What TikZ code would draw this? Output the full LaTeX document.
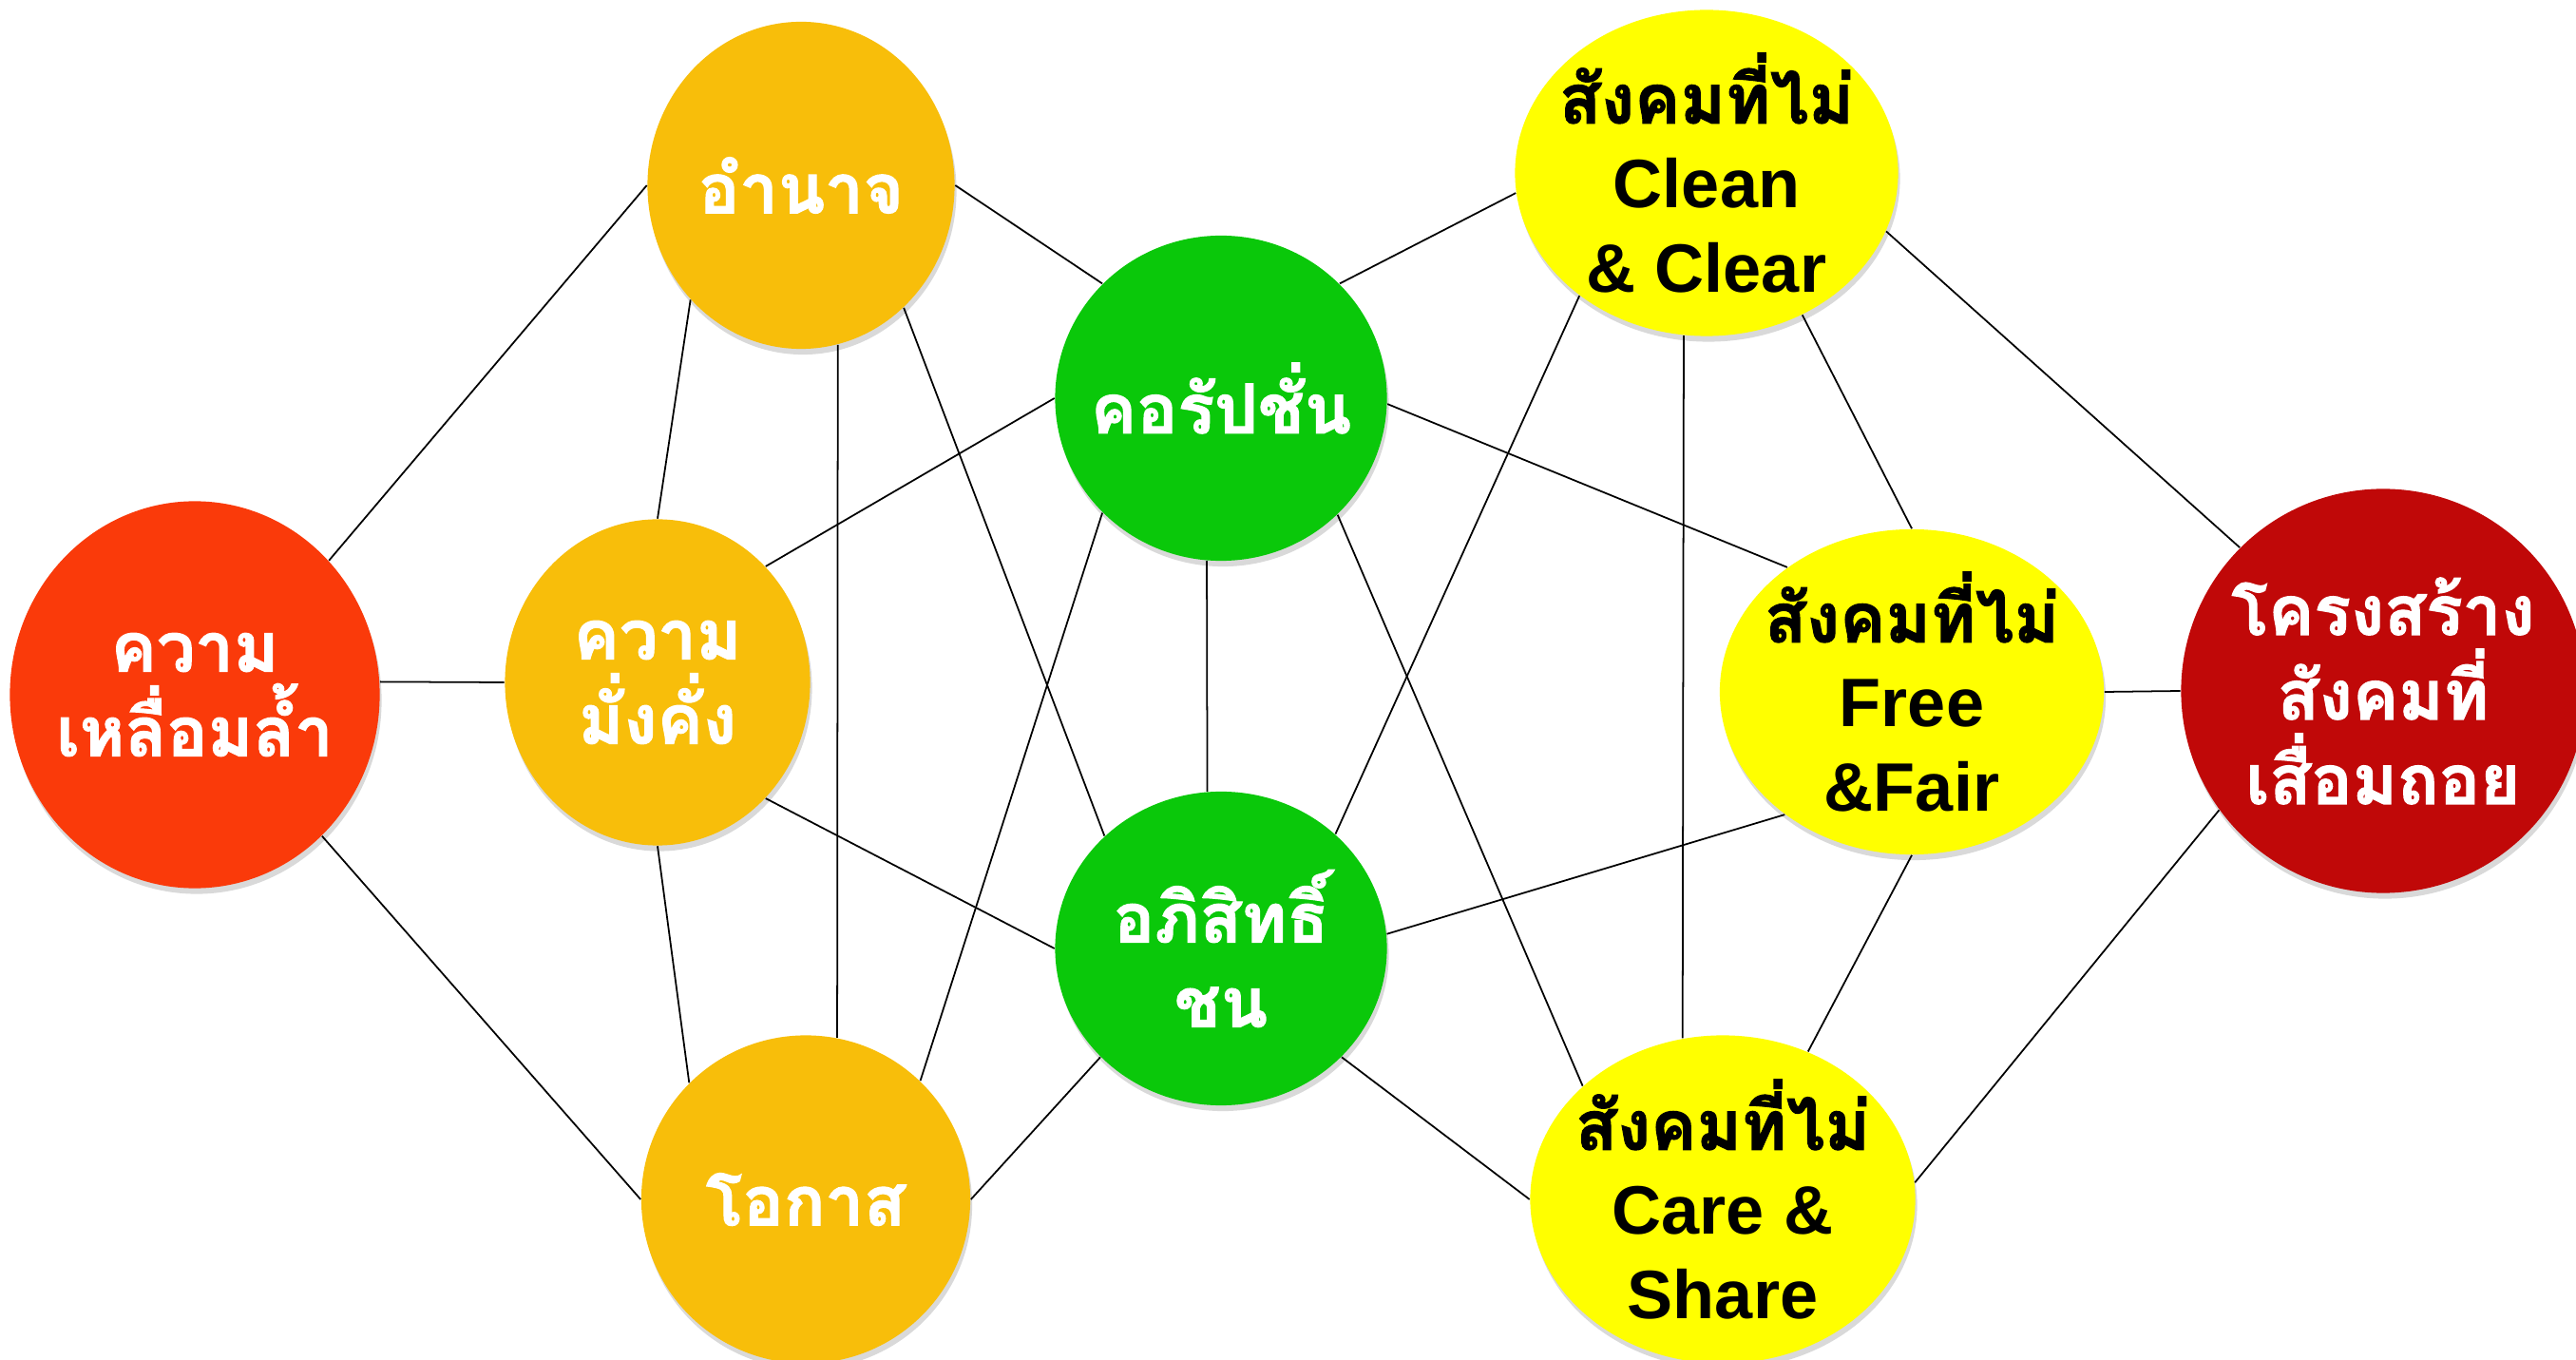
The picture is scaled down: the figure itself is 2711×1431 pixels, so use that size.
\documentclass[tikz,border=0pt]{standalone}
\usepackage{fontspec}
\setmainfont{Liberation Sans}
\newfontfamily\thaifont[Script=Thai,BoldFeatures={FakeBold=1.6}]{Loma}
\usetikzlibrary{shapes.geometric,shadows}

\definecolor{ineqred}{RGB}{250,58,10}
\definecolor{powgold}{RGB}{248,190,10}
\definecolor{corrgreen}{RGB}{10,200,10}
\definecolor{fairyellow}{RGB}{255,255,0}
\definecolor{declred}{RGB}{192,8,8}
\newcommand\ballfont{\fontsize{20.5pt}{25.3pt}\selectfont\bfseries}

\begin{document}
\begin{tikzpicture}[x=0.01cm,y=-0.01cm,
  ball/.style={ellipse,inner sep=-2cm,align=center,
    drop shadow={shadow xshift=0.02cm,shadow yshift=-0.06cm,opacity=0.3}},
  thaiball/.style={ball,text=white,font=\thaifont\ballfont},
  engball/.style={ball,fill=fairyellow,text=black,font=\ballfont},
  link/.style={line width=0.5pt}]
\useasboundingbox (0,0) rectangle (2711,1431);

% left side
\node[thaiball,fill=ineqred,minimum width=3.89cm,minimum height=4.07cm] (ineq) at (205,731) {ความ\\เหลื่อมล้ำ};
\node[thaiball,fill=powgold,minimum width=3.23cm,minimum height=3.44cm] (power) at (843,195) {อำนาจ};
\node[thaiball,fill=powgold,minimum width=3.21cm,minimum height=3.43cm] (wealth) at (692,718) {ความ\\มั่งคั่ง};
\node[thaiball,fill=powgold,minimum width=3.46cm,minimum height=3.45cm] (chance) at (848,1262) {โอกาส};
% middle
\node[thaiball,fill=corrgreen,minimum width=3.49cm,minimum height=3.42cm] (corrupt) at (1285,419) {คอรัปชั่น};
\node[thaiball,fill=corrgreen,minimum width=3.49cm,minimum height=3.30cm] (elite) at (1285,998) {อภิสิทธิ์\\ชน};
% right side
\node[engball,minimum width=4.03cm,minimum height=3.43cm] (clean) at (1796,182) {{\thaifont สังคมที่ไม่}\\Clean\\\& Clear};
\node[engball,minimum width=4.04cm,minimum height=3.42cm] (free) at (2012,728) {{\thaifont สังคมที่ไม่}\\Free\\\&Fair};
\node[engball,minimum width=4.05cm,minimum height=3.45cm] (care) at (1813,1262) {{\thaifont สังคมที่ไม่}\\Care \&\\Share};
\node[thaiball,fill=declred,minimum width=4.25cm,minimum height=4.25cm] (decline) at (2508,727) {โครงสร้าง\\สังคมที่\\เสื่อมถอย};

\draw[link] (ineq.45) -- (power.west);
\draw[link] (ineq.4) -- (wealth.west);
\draw[link] (ineq.-48) -- (chance.west);
\draw[link] (power.226) -- (wealth.north);
\draw[link] (power.-77) -- (chance.79);
\draw[link] (power.east) -- (corrupt.136);
\draw[link] (power.-50) -- (elite.136);
\draw[link] (wealth.47) -- (corrupt.west);
\draw[link] (wealth.-47) -- (elite.west);
\draw[link] (wealth.south) -- (chance.135);
\draw[link] (chance.46) -- (corrupt.224);
\draw[link] (chance.east) -- (elite.222);
\draw[link] (corrupt.-95) -- (elite.95);
\draw[link] (corrupt.44) -- (clean.186);
\draw[link] (corrupt.-2) -- (free.135);
\draw[link] (corrupt.-45) -- (care.141);
\draw[link] (elite.45) -- (clean.224);
\draw[link] (elite.5) -- (free.224);
\draw[link] (elite.-42) -- (care.west);
\draw[link] (clean.-98) -- (care.104);
\draw[link] (clean.-56) -- (free.north);
\draw[link] (clean.-18) -- (decline.135);
\draw[link] (free.south) -- (care.60);
\draw[link] (free.east) -- (decline.west);
\draw[link] (care.5) -- (decline.216);
\end{tikzpicture}
\end{document}
